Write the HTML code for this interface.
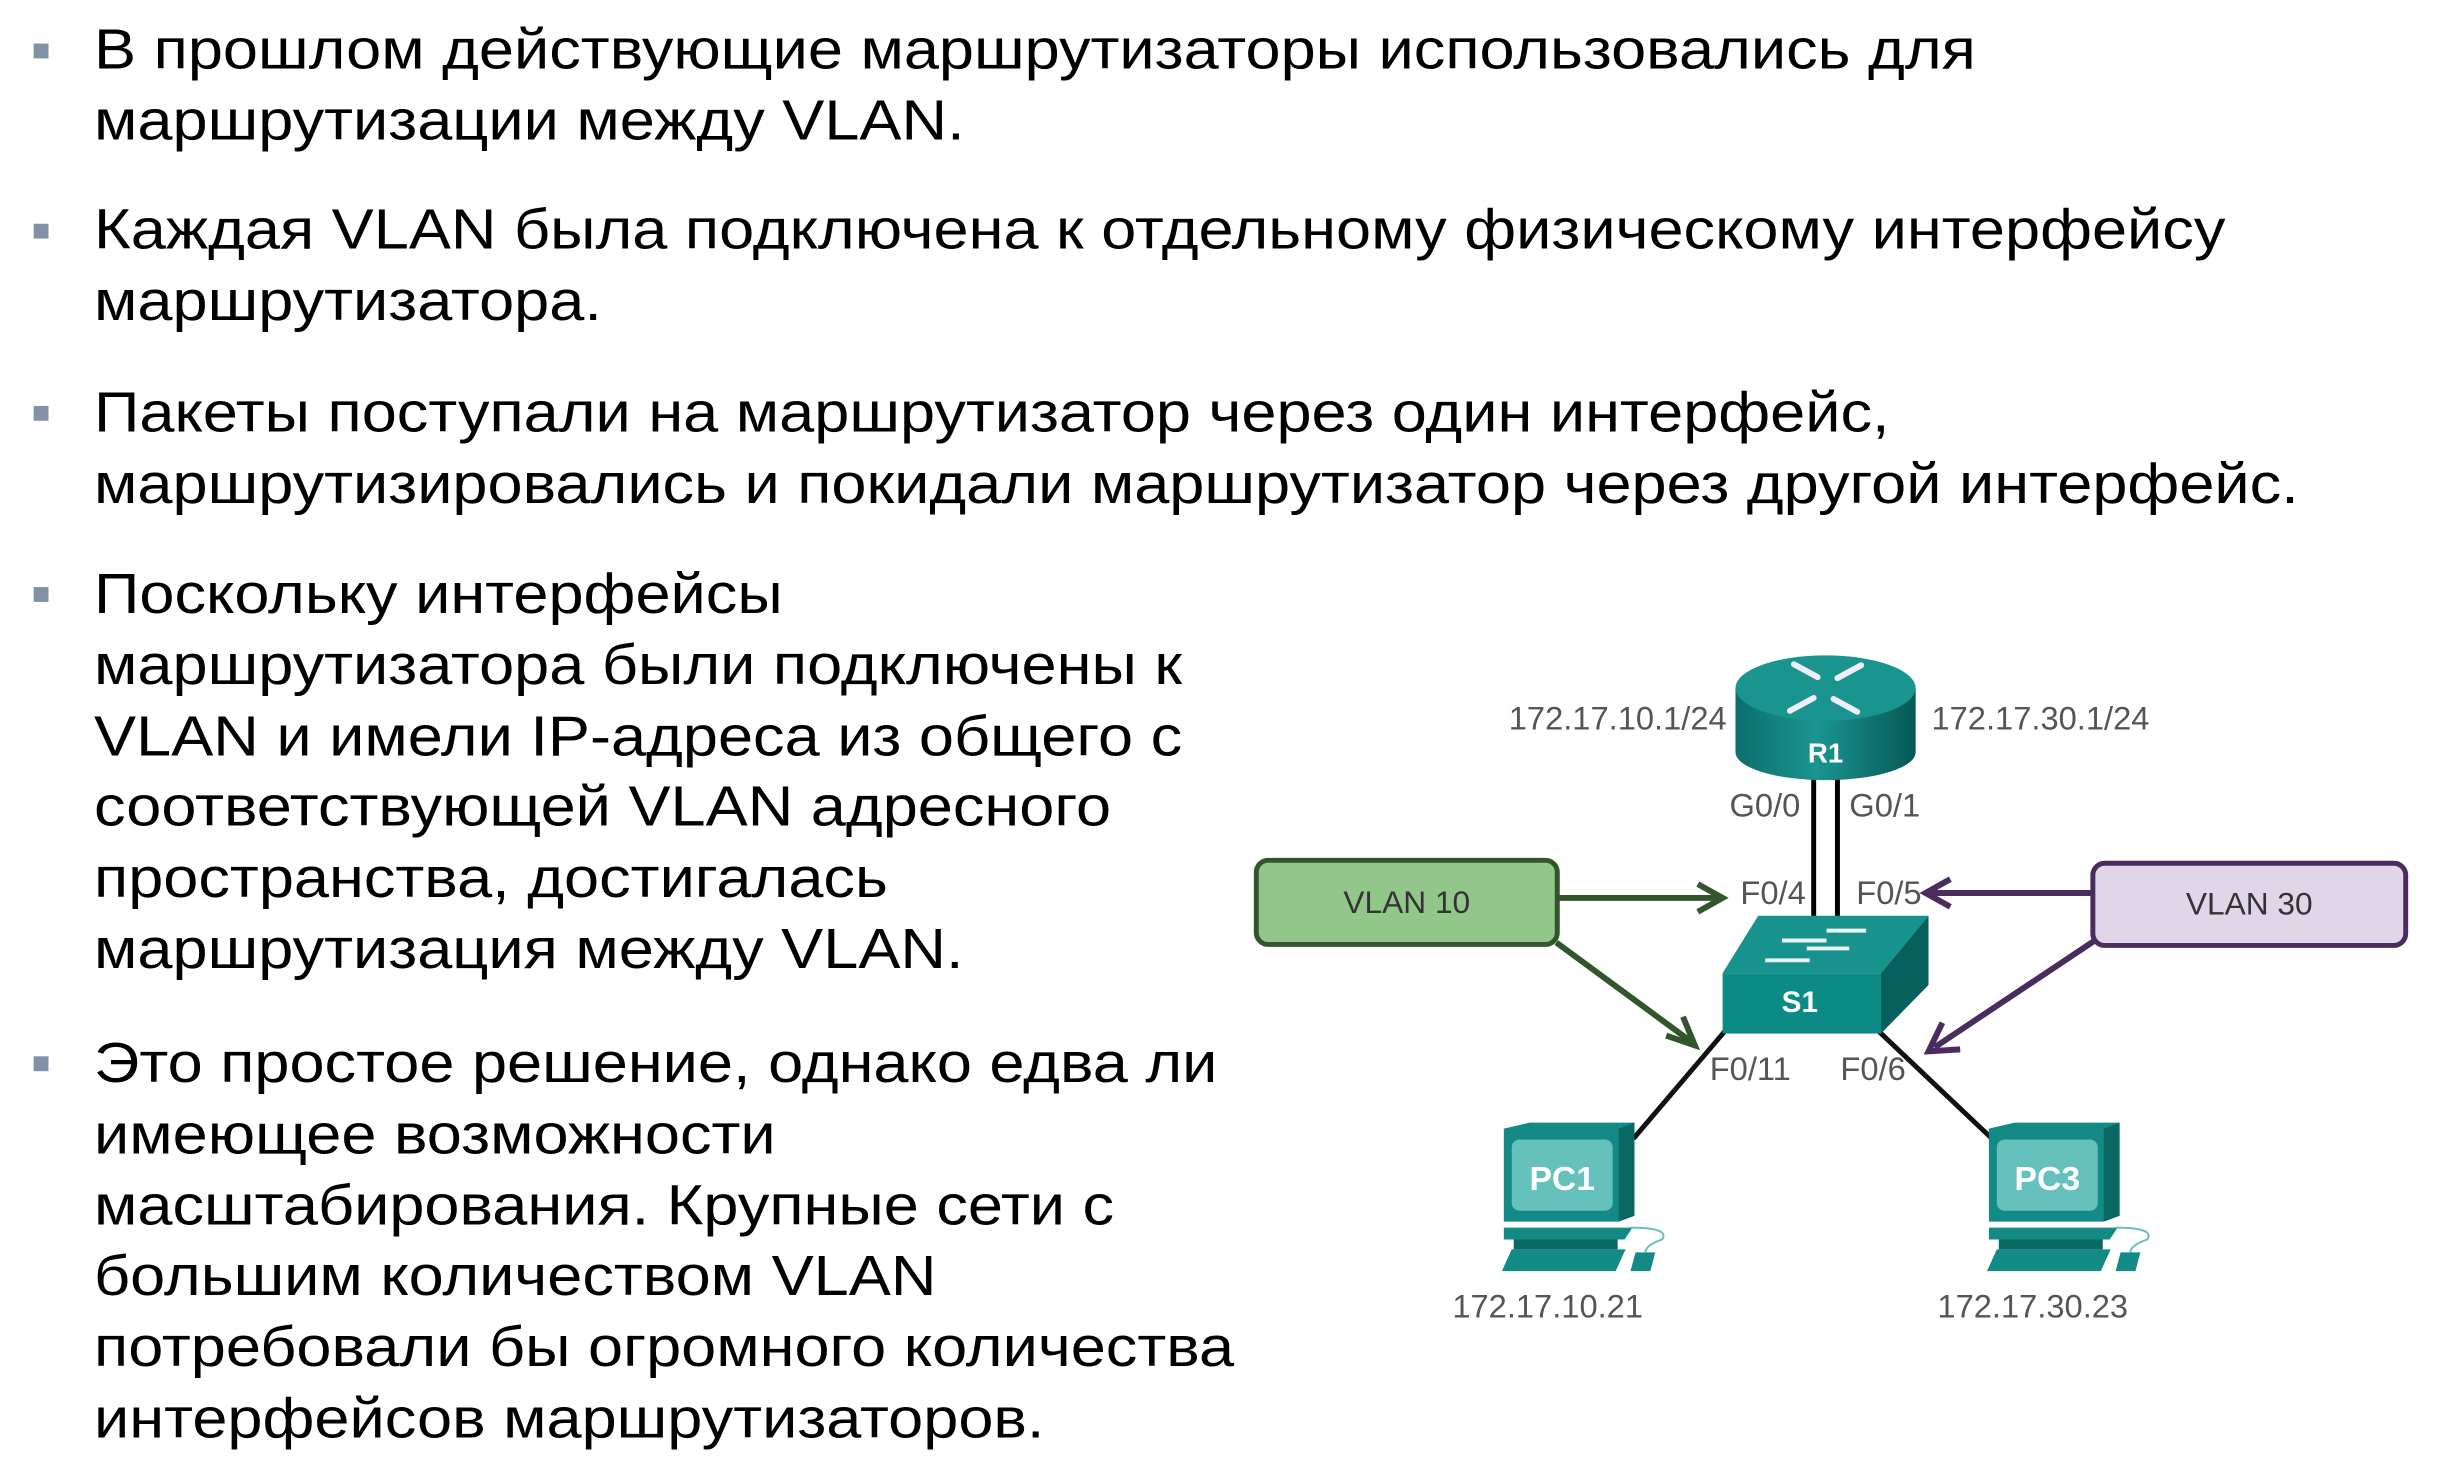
<!DOCTYPE html>
<html><head><meta charset="utf-8"><style>
body{margin:0;width:2462px;height:1476px;background:#fff;position:relative;overflow:hidden;font-family:"Liberation Sans","DejaVu Sans",sans-serif;}
#w{position:absolute;left:0;top:0;width:2487px;height:1491px;transform:scale(0.99);transform-origin:0 0;}
.t{position:absolute;left:95px;font-size:57px;line-height:71.8px;color:#000;white-space:nowrap;transform:scaleX(1.118);transform-origin:0 0;}
.b{position:absolute;left:34px;width:15px;height:15px;background:#8192a8;}
svg{position:absolute;left:0;top:0;}
</style></head><body><div id="w">
<div class="b" style="top:44px"></div>
<div class="t" style="top:15px">В прошлом действующие маршрутизаторы использовались для<br>маршрутизации между VLAN.</div>
<div class="b" style="top:226px"></div>
<div class="t" style="top:197px">Каждая VLAN была подключена к отдельному физическому интерфейсу<br>маршрутизатора.</div>
<div class="b" style="top:410px"></div>
<div class="t" style="top:382px">Пакеты поступали на маршрутизатор через один интерфейс,<br>маршрутизировались и покидали маршрутизатор через другой интерфейс.</div>
<div class="b" style="top:593px"></div>
<div class="t" style="top:565px">Поскольку интерфейсы<br>маршрутизатора были подключены к<br>VLAN и имели IP-адреса из общего с<br>соответствующей VLAN адресного<br>пространства, достигалась<br>маршрутизация между VLAN.</div>
<div class="b" style="top:1067px"></div>
<div class="t" style="top:1039px">Это простое решение, однако едва ли<br>имеющее возможности<br>масштабирования. Крупные сети с<br>большим количеством VLAN<br>потребовали бы огромного количества<br>интерфейсов маршрутизаторов.</div>

<svg width="2487" height="1491" viewBox="0 0 2487 1491" font-family="Liberation Sans, sans-serif">
<defs>
<linearGradient id="rg" x1="0" x2="1"><stop offset="0" stop-color="#0b6f6c"/><stop offset="0.45" stop-color="#1a9590"/><stop offset="1" stop-color="#075856"/></linearGradient>
</defs>
<line x1="1832" y1="780" x2="1832" y2="940" stroke="#000" stroke-width="5"/>
<line x1="1856" y1="780" x2="1856" y2="940" stroke="#000" stroke-width="5"/>
<line x1="1742" y1="1042" x2="1650" y2="1150" stroke="#111" stroke-width="5"/>
<line x1="1898" y1="1042" x2="2012" y2="1150" stroke="#111" stroke-width="5"/>
<path d="M1753 695 L1753 760 A91 28 0 0 0 1935 760 L1935 695 Z" fill="url(#rg)"/>
<ellipse cx="1844" cy="695" rx="91" ry="33" fill="#19948f"/>
<g stroke="#eef" stroke-width="6" fill="none" stroke-linecap="round">
<line x1="1812" y1="671" x2="1836" y2="684"/><line x1="1876" y1="719" x2="1852" y2="706"/>
<line x1="1880" y1="672" x2="1856" y2="685"/><line x1="1808" y1="718" x2="1832" y2="705"/>
</g>
<text x="1844" y="770" fill="#fff" font-size="28" font-weight="bold" text-anchor="middle">R1</text>
<polygon points="1776,925 1948,925 1900,983 1740,983" fill="#17928d"/>
<polygon points="1900,983 1948,925 1948,995 1900,1044" fill="#07605d"/>
<rect x="1740" y="983" width="160" height="61" fill="#0c8a86"/>
<g stroke="#e8f4f4" stroke-width="4">
<line x1="1845" y1="940" x2="1885" y2="940"/><line x1="1800" y1="950" x2="1845" y2="950"/>
<line x1="1825" y1="958" x2="1868" y2="958"/><line x1="1783" y1="970" x2="1828" y2="970"/>
</g>
<text x="1818" y="1022" fill="#fff" font-size="30" font-weight="bold" text-anchor="middle">S1</text>
<rect x="1269" y="869" width="304" height="85" rx="12" fill="#93c68a" stroke="#33552c" stroke-width="5"/>
<text x="1421" y="922" font-size="32" fill="#333" text-anchor="middle">VLAN 10</text>
<rect x="2114" y="872" width="316" height="83" rx="12" fill="#e0d6e8" stroke="#4a2c5f" stroke-width="5"/>
<text x="2272" y="924" font-size="32" fill="#333" text-anchor="middle">VLAN 30</text>
<g stroke="#33552c" stroke-width="6" fill="none">
<line x1="1573" y1="907" x2="1735" y2="907"/>
<polyline points="1715,893 1740,907 1715,921"/>
<line x1="1572" y1="952" x2="1708" y2="1052"/>
<polyline points="1683,1046 1712,1056 1700,1027"/>
</g>
<g stroke="#4a2c5f" stroke-width="6" fill="none">
<line x1="2114" y1="902" x2="1950" y2="902"/>
<polyline points="1970,888 1945,902 1970,916"/>
<line x1="2116" y1="950" x2="1954" y2="1058"/>
<polyline points="1962,1033 1948,1062 1980,1060"/>
</g>
<g font-size="33" fill="#555">
<text x="1524" y="737">172.17.10.1/24</text>
<text x="1951" y="737">172.17.30.1/24</text>
<text x="1747" y="825">G0/0</text>
<text x="1868" y="825">G0/1</text>
<text x="1758" y="913">F0/4</text>
<text x="1875" y="913">F0/5</text>
<text x="1727" y="1091">F0/11</text>
<text x="1859" y="1091">F0/6</text>
<text x="1467" y="1331">172.17.10.21</text>
<text x="1957" y="1331">172.17.30.23</text>
</g>
<g id="pc1" transform="translate(17,0)">
<polygon points="1502,1140 1528,1134 1634,1134 1634,1228 1618,1234 1502,1234" fill="#138a85"/>
<polygon points="1618,1140 1634,1134 1634,1228 1618,1234" fill="#0a6864"/>
<rect x="1510" y="1151" width="102" height="72" rx="8" fill="#66c0bb"/>
<polygon points="1502,1240 1632,1240 1624,1252 1502,1252" fill="#138a85"/>
<rect x="1512" y="1252" width="105" height="10" fill="#0a6864"/>
<polygon points="1510,1262 1625,1262 1615,1284 1500,1284" fill="#138a85"/>
<polygon points="1635,1265 1655,1265 1650,1284 1630,1284" fill="#138a85"/>
<path d="M1630,1240 Q1670,1240 1662,1252 Q1645,1258 1645,1265" stroke="#66c0bb" stroke-width="2" fill="none"/>
</g>
<use href="#pc1" transform="translate(490,0)"/>
<text x="1578" y="1202" font-size="34" font-weight="bold" fill="#fff" text-anchor="middle">PC1</text>
<text x="2068" y="1202" font-size="34" font-weight="bold" fill="#fff" text-anchor="middle">PC3</text>
</svg>
</div></body></html>
